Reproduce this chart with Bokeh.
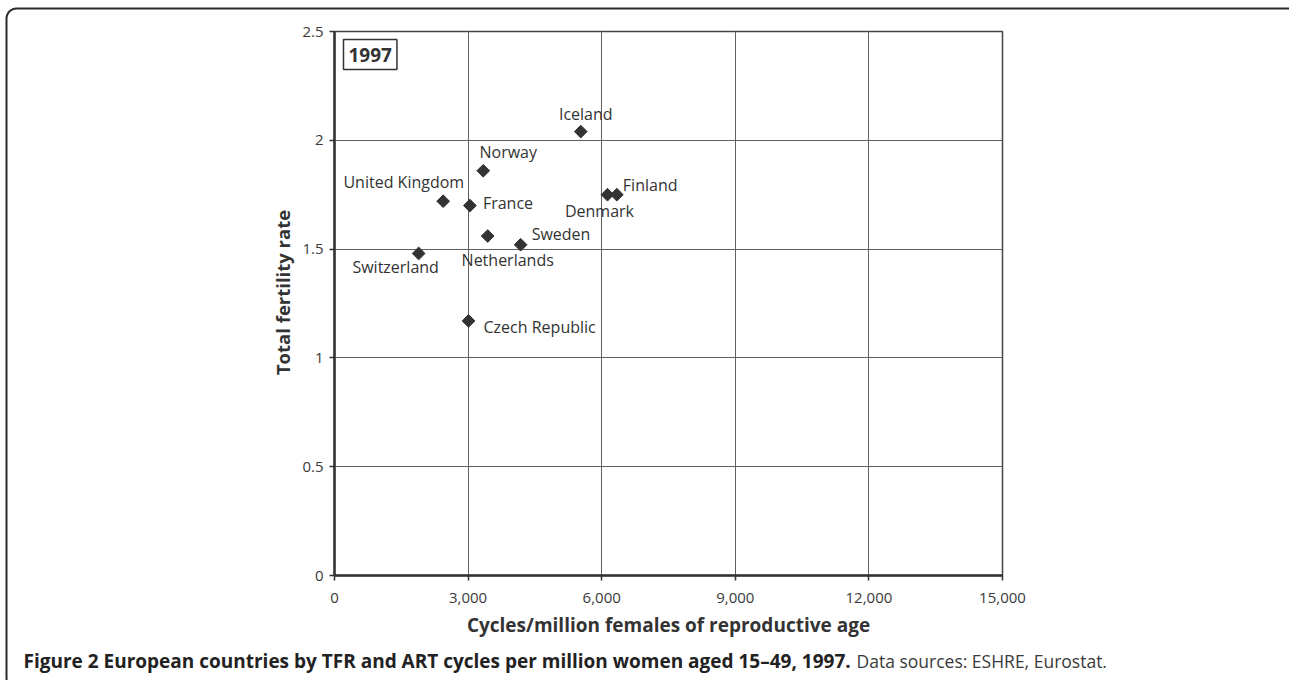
import math

from bokeh.core.properties import value
from bokeh.embed import file_html
from bokeh.models import (ColumnDataSource, FixedTicker, Label, NumeralTickFormatter,
                          Range1d)
from bokeh.plotting import figure
from bokeh.resources import INLINE

# ART cycles per million women aged 15-49 and total fertility rate, 1997
countries = ["Iceland", "Norway", "United Kingdom", "France", "Denmark", "Finland",
             "Netherlands", "Sweden", "Switzerland", "Czech Republic"]
cycles = [5530, 3340, 2440, 3040, 6130, 6340, 3440, 4180, 1890, 3010]
tfr = [2.04, 1.86, 1.72, 1.70, 1.75, 1.75, 1.56, 1.52, 1.48, 1.17]

x_ticks = [0, 3000, 6000, 9000, 12000, 15000]
y_ticks = [0, 0.5, 1, 1.5, 2, 2.5]

x_title = "Cycles/million females of reproductive age"
y_title = "Total fertility rate"
caption_bold = "Figure 2 European countries by TFR and ART cycles per million women aged 15\u201349, 1997."
caption_note = "Data sources: ESHRE, Eurostat."

# label placement relative to each marker (pixels, text alignment)
label_dx = [5, 25, 21, 13, -8, 6, 20, 11, -23, 15]
label_dy = [-18, -19, -19, -3, 16, -10, 24, -11, 14, 6]
label_align = ["center", "center", "right", "left", "center", "left",
               "center", "left", "center", "left"]

FONT_NAME = "Open Sans"
DARK = "#333333"

# page geometry (pixels)
W, H = 1289, 680
FL, FR, FT, FB = 334, 1002, 31, 575   # plot frame edges

src = ColumnDataSource(dict(x=cycles, y=tfr, name=countries,
                            xo=label_dx, yo=label_dy, align=label_align))

p = figure(width=W, height=H, output_backend="svg", toolbar_location=None,
           x_range=Range1d(0, 15000), y_range=Range1d(0, 2.5),
           min_border_left=FL, min_border_right=W - FR,
           min_border_top=FT, min_border_bottom=H - FB,
           background_fill_color="white", border_fill_color="white")

# pixel-space ranges for page decorations (value == page pixel)
p.extra_x_ranges = {"px": Range1d(FL, FR)}
p.extra_y_ranges = {"px": Range1d(FB, FT)}

p.outline_line_color = "#444444"
p.outline_line_width = 1.5

# grid
p.xgrid.ticker = FixedTicker(ticks=x_ticks)
p.ygrid.ticker = FixedTicker(ticks=y_ticks)
for g in (p.xgrid, p.ygrid):
    g.grid_line_color = "#5f5f5f"
    g.grid_line_width = 1

# axes
p.xaxis.ticker = FixedTicker(ticks=x_ticks)
p.yaxis.ticker = FixedTicker(ticks=y_ticks)
p.xaxis.formatter = NumeralTickFormatter(format="0,0")
p.yaxis.formatter = NumeralTickFormatter(format="0.[0]")
p.xaxis.axis_label = x_title
for ax in (p.xaxis, p.yaxis):
    ax.axis_line_color = DARK
    ax.axis_line_width = 2.5
    ax.major_tick_line_color = DARK
    ax.major_tick_line_width = 1.5
    ax.major_tick_in = 0
    ax.major_tick_out = 5
    ax.minor_tick_line_color = None
    ax.major_label_text_font = FONT_NAME
    ax.major_label_text_font_size = "15px"
    ax.major_label_text_color = "#3a3a3a"
    ax.axis_label_text_font = FONT_NAME
    ax.axis_label_text_font_size = "19px"
    ax.axis_label_text_font_style = "bold"
    ax.axis_label_text_color = DARK
p.xaxis.major_label_standoff = 12
p.xaxis.axis_label_standoff = 6
p.yaxis.major_label_standoff = 6

# y-axis title, set slightly above the frame's middle
p.text(x=[282], y=[292], text=[y_title], x_range_name="px", y_range_name="px",
       level="overlay", angle=math.pi / 2, text_font=value(FONT_NAME),
       text_font_size="18.5px", text_font_style="bold", text_color=DARK,
       text_align="center", text_baseline="middle")

# country markers and names
p.scatter(x="x", y="y", source=src, marker="square", size=9, angle=math.pi / 4,
          fill_color=DARK, line_color=DARK)
p.text(x="x", y="y", text="name", source=src, x_offset="xo", y_offset="yo",
       text_align="align", text_baseline="middle", text_font=value(FONT_NAME),
       text_font_size="16px", text_color=DARK)

# year tag
p.add_layout(Label(x=343, y=39, x_units="canvas", y_units="canvas", text="1997",
                   text_font=FONT_NAME, text_font_size="19px", text_font_style="bold",
                   text_color=DARK, text_align="left", text_baseline="top",
                   padding=dict(left=5, right=5, top=8, bottom=8),
                   border_line_color=DARK, border_line_width=1.5,
                   background_fill_color="white"))

# figure caption, drawn in page pixels above everything
p.text(x=[23], y=[660], text=[caption_bold], x_range_name="px", y_range_name="px",
       level="overlay", text_font=value(FONT_NAME), text_font_size="19px",
       text_font_style="bold", text_color="#222222", text_baseline="middle")
p.text(x=[856], y=[660], text=[caption_note], x_range_name="px", y_range_name="px",
       level="overlay", text_font=value(FONT_NAME), text_font_size="17.5px",
       text_color="#3a3a3a", text_baseline="middle")


# rounded panel border around the figure
def rounded_rect(x0, y0, x1, y1, r, n=8):
    xs, ys = [], []
    corners = [(x0 + r, y0 + r, math.pi, 1.5 * math.pi),
               (x1 - r, y0 + r, 1.5 * math.pi, 2 * math.pi),
               (x1 - r, y1 - r, 0, 0.5 * math.pi),
               (x0 + r, y1 - r, 0.5 * math.pi, math.pi)]
    for cx, cy, a0, a1 in corners:
        for i in range(n + 1):
            a = a0 + (a1 - a0) * i / n
            xs.append(cx + r * math.cos(a))
            ys.append(cy + r * math.sin(a))
    xs.append(xs[0])
    ys.append(ys[0])
    return xs, ys


bx, by = rounded_rect(6, 8, 1298, 688, 10)
p.line(x=bx, y=by, x_range_name="px", y_range_name="px", level="overlay",
       line_color="#2a2a2a", line_width=2)

open("out.html", "w").write(file_html(p, INLINE))
